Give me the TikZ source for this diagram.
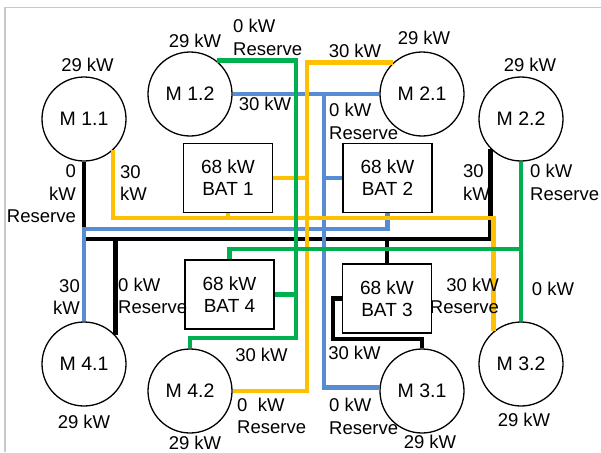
\documentclass[tikz,border=0pt]{standalone}
\usepackage{fontspec}
\setmainfont{Liberation Sans}
\definecolor{wgreen}{RGB}{0,176,80}
\definecolor{wyellow}{RGB}{255,192,0}
\definecolor{wblue}{RGB}{86,140,212}
\definecolor{wframe}{RGB}{200,200,200}
\begin{document}
\begin{tikzpicture}[x=1pt,y=-1pt,
  lbl/.style={font=\fontsize{18.5}{22.5}\selectfont, inner sep=0pt},
  motor/.style={circle, draw, line width=1.3pt, fill=white, minimum size=84pt, inner sep=0pt, font=\fontsize{19.5}{23}\selectfont},
  battery/.style={rectangle, draw, line width=1.3pt, fill=white, minimum width=89pt, minimum height=69pt, inner sep=0pt, align=center, font=\fontsize{19}{22}\selectfont},
  wire/.style={line width=4.8pt},
  blk/.style={wire, draw=black},
  blu/.style={wire, draw=wblue},
  ylw/.style={wire, draw=wyellow},
  grn/.style={wire, draw=wgreen}]
\useasboundingbox (0,0) rectangle (601,452);
\draw[wframe, line width=1.5pt] (5,452) -- (5,7.5) -- (601,7.5);

% motors
\node[motor] (m11) at (84,119) {M 1.1};
\node[motor] (m12) at (190,94) {M 1.2};
\node[motor] (m21) at (422,94) {M 2.1};
\node[motor] (m22) at (521,119) {M 2.2};
\node[motor] (m41) at (84,364) {M 4.1};
\node[motor] (m42) at (190,391) {M 4.2};
\node[motor] (m31) at (422,391) {M 3.1};
\node[motor] (m32) at (521,364) {M 3.2};

% batteries
\node[battery] (b1) at (228,178) {68 kW\\BAT 1};
\node[battery] (b2) at (387.5,178) {68 kW\\BAT 2};
\node[battery] (b4) at (229.5,294.5) {68 kW\\BAT 4};
\node[battery] (b3) at (387,298.5) {68 kW\\BAT 3};

% junction coordinates
\coordinate (g1) at (296,338);
\coordinate (g2) at (521,249);
\coordinate (bj) at (324,94);
\coordinate (bb) at (84,229);
\coordinate (klev) at (0,239);
\coordinate (k3) at (333,339);
\coordinate (ylev) at (0,218);
\coordinate (y4) at (307,391);

% black
\draw[blk] (m11.south) |- (m22.225 |- klev) -- (m22.225);
\draw[blk] (m41.43) -- (m41.43 |- klev);
\draw[blk] (b3.north) -- (b3.north |- klev);
\draw[blk] (b3.west) -| (k3) -| (m31.north);

% blue
\draw[blu] (m12.east) -- (m21.west);
\draw[blu] (bj) |- (m31.175);
\draw[blu] (b2.west) -- (b2.west -| bj);
\draw[blu] (b2.south) |- (bb) -- (m41.north);

% yellow
\draw[ylw] (m11.-47) |- (m32.130 |- ylev) -- (m32.130);
\draw[ylw] (b1.south) -- (b1.south |- ylev);
\draw[ylw] (m21.133) -| (y4) -- (m42.east);
\draw[ylw] (b1.east) -- (b1.east -| y4);

% green
\draw[grn] (m12.51) -| (g1) -| (m42.north);
\draw[grn] (b4.east) -- (b4.east -| g1);
\draw[grn] (m22.south) -- (m32.north);
\draw[grn] (b4.north) |- (g2);

% labels
\node[lbl] (t1) at (87.5,65) {29 kW};
\node[lbl] (t2) at (195,41) {29 kW};
\node[lbl, anchor=west, align=left] (t3) at (233,37.5) {0 kW\\Reserve};
\node[lbl] (t4) at (265,104) {30 kW};
\node[lbl] (t5) at (355,51) {30 kW};
\node[lbl] (t6) at (424,38) {29 kW};
\node[lbl, anchor=west, align=left] (t7) at (329,121.5) {0 kW\\Reserve};
\node[lbl] (t8) at (530,65) {29 kW};
\node[lbl, anchor=east, align=right] (t9) at (76,194) {0\\kW\\Reserve};
\node[lbl, anchor=west, align=left] (t10) at (120,183) {30\\kW};
\node[lbl, anchor=west, align=left] (t12) at (463,182.5) {30\\kW};
\node[lbl, anchor=west, align=left] (t13) at (530,182.5) {0 kW\\Reserve};
\node[lbl, anchor=east, align=right] (t14) at (80,297) {30\\kW};
\node[lbl, anchor=west, align=left] (t15) at (118,296) {0 kW\\Reserve};
\node[lbl] (t16) at (261.5,355) {30 kW};
\node[lbl, anchor=west, align=left] (t17) at (237,416) {0\ \ kW\\Reserve};
\node[lbl] (t18) at (195,442.5) {29 kW};
\node[lbl] (t19) at (354.5,353) {30 kW};
\node[lbl, anchor=west, align=left] (t20) at (329,416.5) {0 kW\\Reserve};
\node[lbl] (t21) at (430,442) {29 kW};
\node[lbl, anchor=east, align=right] (t22) at (499,296) {30 kW\\Reserve};
\node[lbl] (t23) at (553,289) {0 kW};
\node[lbl] (t24) at (524,420) {29 kW};
\node[lbl] (t25) at (84,422) {29 kW};
\end{tikzpicture}
\end{document}
